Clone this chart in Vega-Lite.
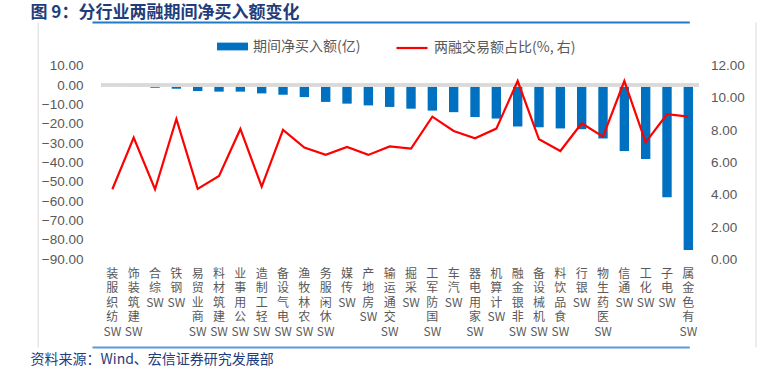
{
  "$schema": "https://vega.github.io/schema/vega-lite/v6.json",
  "width": 735,
  "height": 325,
  "autosize": {"type": "none"},
  "padding": {"left": 28, "top": 22, "right": 0, "bottom": 22},
  "config": {"view": {"stroke": null}, "background": "#ffffff", "axis": {"labelOverlap": false}},
  "data": {"values": [
    {"cat": "SW纺织服装", "net": -0.5, "ratio": 4.34},
    {"cat": "SW建筑装饰", "net": -0.9, "ratio": 7.54},
    {"cat": "SW综合", "net": -1.4, "ratio": 4.34},
    {"cat": "SW钢铁", "net": -1.9, "ratio": 8.70},
    {"cat": "SW商业贸易", "net": -3.1, "ratio": 4.36},
    {"cat": "SW建筑材料", "net": -3.4, "ratio": 5.16},
    {"cat": "SW公用事业", "net": -3.4, "ratio": 8.08},
    {"cat": "SW轻工制造", "net": -4.3, "ratio": 4.50},
    {"cat": "SW电气设备", "net": -5.0, "ratio": 8.02},
    {"cat": "SW农林牧渔", "net": -6.2, "ratio": 6.92},
    {"cat": "SW休闲服务", "net": -8.7, "ratio": 6.47},
    {"cat": "SW传媒", "net": -9.6, "ratio": 6.96},
    {"cat": "SW房地产", "net": -10.5, "ratio": 6.47},
    {"cat": "SW交通运输", "net": -11.3, "ratio": 7.00},
    {"cat": "SW采掘", "net": -12.2, "ratio": 6.86},
    {"cat": "SW国防军工", "net": -13.2, "ratio": 8.84},
    {"cat": "SW汽车", "net": -14.0, "ratio": 7.95},
    {"cat": "SW家用电器", "net": -16.5, "ratio": 7.50},
    {"cat": "SW计算机", "net": -17.3, "ratio": 8.10},
    {"cat": "SW非银金融", "net": -21.4, "ratio": 11.05},
    {"cat": "SW机械设备", "net": -21.8, "ratio": 7.44},
    {"cat": "SW食品饮料", "net": -22.4, "ratio": 6.71},
    {"cat": "SW银行", "net": -22.8, "ratio": 8.43},
    {"cat": "SW医药生物", "net": -27.6, "ratio": 7.60},
    {"cat": "SW通信", "net": -34.1, "ratio": 11.05},
    {"cat": "SW化工", "net": -38.2, "ratio": 7.25},
    {"cat": "SW电子", "net": -57.9, "ratio": 8.99},
    {"cat": "SW有色金属", "net": -85.2, "ratio": 8.84}
  ]},
  "layer": [
    {
      "layer": [
        {
          "mark": {"type": "bar"},
          "encoding": {
            "x": {
              "field": "cat", "type": "nominal", "sort": null,
              "scale": {"range": [73.7, 671], "paddingInner": 0.56, "paddingOuter": 0.28},
              "axis": {
                "orient": "bottom",
                "title": "资料来源：Wind、宏信证券研究发展部",
                "domain": false,
                "ticks": false, "tickSize": 0, "grid": false,
                "labelPadding": -79, "labelAngle": 0, "labelBaseline": "top", "labelAlign": "center",
                "labelExpr": "split(join(reverse(split(replace(datum.label, 'SW', ''), '')), '|') + '|SW', '|')",
                "labelFont": "Noto Sans CJK SC", "labelFontSize": 12, "labelColor": "#595959", "labelLineHeight": 14.5,
                "labelOverlap": false, "labelBound": false, "labelFlush": false,
                "titleX": 2, "titleY": 12, "titleAlign": "left", "titleBaseline": "middle", "titleAnchor": "start",
                "titleFont": "Noto Sans CJK SC", "titleFontSize": 14, "titleFontWeight": "normal", "titleColor": "#1F3D7A"
              }
            },
            "y": {
              "field": "net", "type": "quantitative",
              "scale": {"domain": [-135.3, 32.57], "nice": false, "zero": false},
              "axis": {
                "orient": "left", "offset": -9.7, "title": null,
                "values": [-90, -80, -70, -60, -50, -40, -30, -20, -10, 0, 10], "format": ".2f",
                "domainColor": "#D9D9D9", "domainWidth": 1, "ticks": false, "tickSize": 0, "grid": false,
                "labelOverlap": false, "labelBound": false, "labelSeparation": 0,
                "labelPadding": -45.3, "labelFont": "Liberation Sans", "labelFontSize": 13.5, "labelColor": "#595959"
              }
            },
            "fill": {
              "datum": "期间净买入额(亿)",
              "scale": {"range": ["#0070C0"]},
              "legend": {
                "orient": "none", "legendX": 189, "legendY": 9, "title": null, "padding": 0,
                "symbolType": "M-1,-0.25H1V0.25H-1Z", "symbolSize": 961, "symbolStrokeWidth": 0,
                "labelFont": "Noto Sans CJK SC", "labelFontSize": 14, "labelColor": "#595959", "labelOffset": 5
              }
            }
          }
        },
        {
          "mark": {"type": "rule", "color": "#D9D9D9", "strokeWidth": 2.5, "xOffset": -10.67, "x2Offset": 10.67},
          "encoding": {
            "x": {"datum": "SW纺织服装", "type": "nominal", "axis": null},
            "x2": {"datum": "SW有色金属"},
            "y": {"datum": 0, "type": "quantitative", "axis": null}
          }
        }
      ],
      "resolve": {"axis": {"x": "independent", "y": "independent"}}
    },
    {
      "mark": {"type": "line", "strokeWidth": 2.2},
      "encoding": {
        "x": {
          "field": "cat", "type": "nominal", "sort": null,
          "axis": {
            "orient": "top", "title": "图 9：分行业两融期间净买入额变化",
            "labels": false, "ticks": false, "grid": false, "domain": false,
            "titleX": 2, "titleY": -10, "titleAlign": "left", "titleBaseline": "middle", "titleAnchor": "start",
            "titleFont": "Noto Sans CJK SC", "titleFontSize": 17, "titleFontWeight": "bold", "titleColor": "#1F3D7A"
          }
        },
        "y": {
          "field": "ratio", "type": "quantitative",
          "scale": {"domain": [-5.44, 14.71], "nice": false, "zero": false},
          "axis": {
            "orient": "right", "offset": -7.5, "title": null,
            "values": [-5.44, 0, 2, 4, 6, 8, 10, 12, 14.71],
            "labelExpr": "datum.value > 13 || datum.value < -1 ? '' : format(datum.value, '.2f')",
            "domainColor": "#D9D9D9", "domainWidth": 1, "ticks": false, "tickSize": 0,
            "grid": true,
            "gridColor": {"condition": {"test": "datum.value > 13", "value": "#1F7AC8"}, "value": "#5B9BD5"},
            "gridOpacity": {"condition": {"test": "datum.value > 13 || datum.value < -1", "value": 1}, "value": 0},
            "gridWidth": 2,
            "labelOverlap": false, "labelBound": false,
            "labelPadding": -45, "labelFont": "Liberation Sans", "labelFontSize": 13.5, "labelColor": "#595959"
          }
        },
        "stroke": {
          "datum": "两融交易额占比(%, 右)",
          "scale": {"range": ["#FF0000"]},
          "legend": {
            "orient": "none", "legendX": 367, "legendY": 9, "title": null, "padding": 0,
            "symbolType": "stroke", "symbolSize": 961, "symbolStrokeWidth": 2.2,
            "labelFont": "Noto Sans CJK SC", "labelFontSize": 14, "labelColor": "#595959", "labelOffset": 5
          }
        }
      }
    }
  ],
  "resolve": {"scale": {"y": "independent"}, "axis": {"x": "independent"}}
}
